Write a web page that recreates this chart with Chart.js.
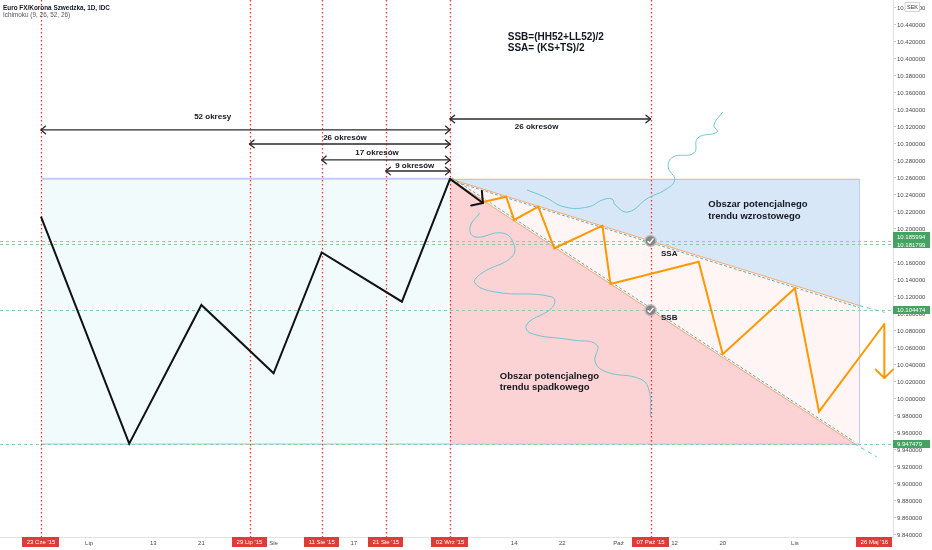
<!DOCTYPE html>
<html><head><meta charset="utf-8">
<script src="https://cdn.jsdelivr.net/npm/chart.js@4.4.0/dist/chart.umd.min.js"></script>
<style>html,body{margin:0;padding:0;background:#fff;overflow:hidden}canvas{display:block}</style>
</head><body>
<canvas id="c" width="932" height="550"></canvas>
<script>
// ---------- data (x = bar index from 23 Cze '15, y = EUR/SEK price) ----------
const priceIdx = [0, 11, 20, 29, 35, 45, 51];
const priceVal = [10.2145, 9.9475, 10.1106, 10.0302, 10.1725, 10.1145, 10.259];

const zigIdx = [55, 58, 59, 62, 64, 70, 71, 82, 85, 94, 97, 105.15];
const zigVal = [10.2314, 10.2380, 10.2106, 10.2262, 10.1773, 10.2039, 10.1353, 10.1615, 10.0526, 10.1302, 9.9851, 10.0882];
const zigArrowEnd = [105.15, 10.0247];
const blackArrow = [[51, 10.259], [55.1, 10.2306]];

const hiLo = [10.259, 9.9475];          // HH52, LL52
const rangeIdx = [0, 51];
const cloudIdx = [51, 102, 101.4];       // apex, upper end, lower end
const upperEndVal = 10.110;
const upperExt = [[102, 10.110], [105.2, 10.1018]];
const lowerExt = [[101.4, 9.9475], [104.2, 9.9318]];
const markerIdx = 76;
const markerVal = [10.185994, 10.104474];

const priceLines = [10.185994, 10.181799, 10.104474, 9.947479];

const vLineIdx = [0, 26, 35, 43, 51, 76];
const vLineLabels = ["23 Cze '15", "29 Lip '15", "11 Sie '15", "21 Sie '15", "02 Wrz '15", "07 Paź '15"];
const edgeLabelIdx = 103.9;
const edgeLabel = "26 Maj '16";

const xTickIdx = [6, 14, 20, 29, 39, 59, 65, 72, 79, 85, 94];
const xTickLabels = ['Lip', '13', '21', 'Sie', '17', '14', '22', 'Paź', '12', '20', 'Lis'];
const xMin = -5.11, xMax = 106.23;
const yMin = 9.8376, yMax = 10.4694;
const yTickFrom = 9.84, yTickTo = 10.46, yTickStep = 0.02;

const spanFrom = [0, 26, 35, 43, 51];
const spanTo = [51, 51, 51, 51, 76];
const spanVal = [10.3165, 10.300, 10.2812, 10.2682, 10.3294];
const spanText = ['52 okresy', '26 okresów', '17 okresów', '9 okresów', '26 okresów'];
const spanTextIdx = [21.4, 37.9, 41.9, 46.6, 61.8];
const spanTextVal = [10.332, 10.3071, 10.2894, 10.2741, 10.3200];

const noteText = ['SSB=(HH52+LL52)/2', 'SSA= (KS+TS)/2', 'Obszar potencjalnego', 'trendu wzrostowego',
                  'Obszar potencjalnego', 'trendu spadkowego', 'SSA', 'SSB'];
const noteIdx = [58.2, 58.2, 83.2, 83.2, 57.2, 57.2, 77.3, 77.3];
const noteVal = [10.4259, 10.413, 10.2294, 10.2153, 10.0271, 10.0141, 10.1706, 10.0953];
const noteKind = ['big', 'big', 'mid', 'mid', 'mid', 'mid', 'small', 'small'];

const tealUpper = [[85.0,10.3376],[83.9,10.3224],[84.3,10.3141],[81.9,10.3071],[81.4,10.2894],[78.8,10.2847],
  [78.2,10.2729],[79.0,10.2576],[77.8,10.2459],[75.7,10.2365],[73.2,10.2200],[71.6,10.2282],[71.2,10.2353],
  [70.0,10.2341],[68.2,10.2259],[65.3,10.2259],[62.8,10.2376],[60.6,10.2459]];
const tealLower = [[54.7,10.2188],[53.5,10.2024],[54.1,10.1906],[57.5,10.1953],[58.9,10.1835],[58.7,10.1671],
  [55.0,10.1482],[54.1,10.1365],[56.6,10.1259],[63.7,10.1200],[63.8,10.1082],[60.6,10.0882],[61.0,10.0776],
  [66.2,10.0694],[69.3,10.0635],[69.1,10.0435],[70.5,10.0318],[74.7,10.0235],[75.8,10.0106],[76.0,9.9788]];

const header1 = 'Euro FX/Korona Szwedzka, 1D, IDC';
const header2 = 'Ichimoku (9, 26, 52, 26)';

// ---------- styles ----------
const FF = "'Liberation Sans', Arial, sans-serif";
const noteFont = { big: 'bold 10px ' + FF, mid: 'bold 9.5px ' + FF, small: 'bold 8px ' + FF };

function arrowHead(ctx, fx, fy, tx, ty, len, ang) {
  const a = Math.atan2(ty - fy, tx - fx);
  ctx.beginPath();
  ctx.moveTo(tx - len * Math.cos(a - ang), ty - len * Math.sin(a - ang));
  ctx.lineTo(tx, ty);
  ctx.lineTo(tx - len * Math.cos(a + ang), ty - len * Math.sin(a + ang));
  ctx.stroke();
}
function line(ctx, x1, y1, x2, y2) { ctx.beginPath(); ctx.moveTo(x1, y1); ctx.lineTo(x2, y2); ctx.stroke(); }

const drawings = {
  id: 'drawings',
  beforeDatasetsDraw(chart) {
    const { ctx, chartArea: ca, scales: { x, y } } = chart;
    const px = v => x.getPixelForValue(v), py = v => y.getPixelForValue(v);
    const [HH, LL] = hiLo;
    ctx.save();
    ctx.beginPath(); ctx.rect(ca.left, ca.top, ca.width, ca.height); ctx.clip();
    ctx.fillStyle = '#f2fbfb';
    ctx.fillRect(px(rangeIdx[0]), py(HH), px(rangeIdx[1]) - px(rangeIdx[0]), py(LL) - py(HH));
    ctx.fillStyle = '#fff5f5';
    ctx.fillRect(px(cloudIdx[0]), py(HH), px(cloudIdx[1]) - px(cloudIdx[0]), py(LL) - py(HH));
    ctx.fillStyle = '#d8e7f7';
    ctx.beginPath(); ctx.moveTo(px(cloudIdx[0]), py(HH)); ctx.lineTo(px(cloudIdx[1]), py(HH));
    ctx.lineTo(px(cloudIdx[1]), py(upperEndVal)); ctx.closePath(); ctx.fill();
    ctx.fillStyle = '#fbd3d4';
    ctx.beginPath(); ctx.moveTo(px(cloudIdx[0]), py(HH)); ctx.lineTo(px(cloudIdx[2]), py(LL));
    ctx.lineTo(px(cloudIdx[0]), py(LL)); ctx.closePath(); ctx.fill();
    ctx.strokeStyle = '#c4caf4'; ctx.lineWidth = 2;
    line(ctx, px(rangeIdx[0]), py(HH), px(rangeIdx[1]), py(HH));
    ctx.lineWidth = 1; ctx.strokeStyle = '#aab3ec';
    line(ctx, px(rangeIdx[0]), py(LL) + 0.5, px(cloudIdx[1]), py(LL) + 0.5);
    ctx.strokeStyle = '#c5c6f0';
    line(ctx, px(cloudIdx[1]) + 0.5, py(HH), px(cloudIdx[1]) + 0.5, py(LL));
    ctx.strokeStyle = '#f6b183';
    line(ctx, px(cloudIdx[0]), py(HH) + 0.5, px(cloudIdx[1]), py(HH) + 0.5);
    ctx.setLineDash([3, 3]); ctx.strokeStyle = '#86d0a4'; ctx.lineWidth = 1;
    priceLines.forEach(v => line(ctx, ca.left, Math.round(py(v)) + 0.5, ca.right, Math.round(py(v)) + 0.5));
    ctx.setLineDash([]); ctx.strokeStyle = '#f7aa72'; ctx.lineWidth = 1;
    line(ctx, px(cloudIdx[0]), py(HH), px(cloudIdx[1]), py(upperEndVal));
    line(ctx, px(cloudIdx[0]), py(HH), px(cloudIdx[2]), py(LL));
    ctx.setLineDash([3, 2]); ctx.strokeStyle = '#6aa9ad';
    line(ctx, px(cloudIdx[0]) + 2, py(HH) + 2, px(cloudIdx[1]), py(upperEndVal) + 2);
    line(ctx, px(cloudIdx[0]) + 2, py(HH) - 1, px(cloudIdx[2]), py(LL) - 2);
    ctx.setLineDash([4, 4]); ctx.strokeStyle = '#66c3cc';
    line(ctx, px(upperExt[0][0]), py(upperExt[0][1]), px(upperExt[1][0]), py(upperExt[1][1]));
    line(ctx, px(lowerExt[0][0]), py(lowerExt[0][1]), px(lowerExt[1][0]), py(lowerExt[1][1]));
    ctx.restore();
    ctx.save();
    ctx.setLineDash([1.6, 2.4]); ctx.strokeStyle = '#e53935'; ctx.lineWidth = 1.3;
    vLineIdx.forEach(i => { const xx = Math.round(px(i)) + 0.5; line(ctx, xx, ca.top, xx, ca.bottom); });
    ctx.restore();
  },
  afterDatasetsDraw(chart) {
    const { ctx, chartArea: ca, scales: { x, y } } = chart;
    const px = v => x.getPixelForValue(v), py = v => y.getPixelForValue(v);
    ctx.save();
    ctx.strokeStyle = '#111'; ctx.lineWidth = 2; ctx.lineCap = 'round'; ctx.lineJoin = 'round';
    const bx1 = px(blackArrow[0][0]), by1 = py(blackArrow[0][1]), bx2 = px(blackArrow[1][0]), by2 = py(blackArrow[1][1]);
    line(ctx, bx1, by1, bx2, by2);
    arrowHead(ctx, bx1, by1, bx2, by2, 12, 0.85);
    ctx.strokeStyle = '#ff9800';
    const ox1 = px(zigIdx[zigIdx.length - 1]), oy1 = py(zigVal[zigVal.length - 1]);
    const ox2 = px(zigArrowEnd[0]), oy2 = py(zigArrowEnd[1]);
    line(ctx, ox1, oy1, ox2, oy2);
    arrowHead(ctx, ox1, oy1, ox2, oy2, 12, 0.8);
    ctx.strokeStyle = '#2a2a2a'; ctx.lineWidth = 1.3;
    ctx.fillStyle = '#131722'; ctx.font = 'bold 8px ' + FF; ctx.textAlign = 'center'; ctx.textBaseline = 'middle';
    spanFrom.forEach((f, i) => {
      const x1 = px(f), x2 = px(spanTo[i]), yy = py(spanVal[i]);
      line(ctx, x1, yy, x2, yy);
      arrowHead(ctx, x2, yy, x1, yy, 6, 0.7);
      arrowHead(ctx, x1, yy, x2, yy, 6, 0.7);
      ctx.fillText(spanText[i], px(spanTextIdx[i]), py(spanTextVal[i]));
    });
    ctx.textAlign = 'left';
    noteText.forEach((t, i) => {
      ctx.font = noteFont[noteKind[i]];
      ctx.fillText(t, px(noteIdx[i]), py(noteVal[i]));
    });
    markerVal.forEach(v => {
      const cx = px(markerIdx), cy = py(v);
      ctx.beginPath(); ctx.arc(cx, cy, 5.5, 0, Math.PI * 2);
      ctx.fillStyle = 'rgba(125,125,125,0.9)'; ctx.fill();
      ctx.strokeStyle = 'rgba(190,190,190,0.9)'; ctx.lineWidth = 1.5; ctx.stroke();
      ctx.strokeStyle = '#fff'; ctx.lineWidth = 1.4;
      ctx.beginPath(); ctx.moveTo(cx - 2.5, cy + 0.5); ctx.lineTo(cx - 0.8, cy + 2.2); ctx.lineTo(cx + 2.6, cy - 2); ctx.stroke();
    });
    ctx.textAlign = 'left'; ctx.textBaseline = 'middle';
    ctx.fillStyle = '#131722'; ctx.font = 'bold 6.4px ' + FF;
    ctx.fillText(header1, 3, 8);
    ctx.fillStyle = '#555'; ctx.font = '6.4px ' + FF;
    ctx.fillText(header2, 3, 15.5);
    ctx.font = '6px ' + FF; ctx.textAlign = 'center';
    const dateBox = (cx, t) => {
      const w = ctx.measureText(t).width + 9;
      ctx.fillStyle = '#de3b3b'; ctx.fillRect(Math.round(cx - w / 2), ca.bottom, Math.round(w), 10);
      ctx.fillStyle = '#fff'; ctx.fillText(t, cx, ca.bottom + 5.5);
    };
    vLineIdx.forEach((i, k) => dateBox(px(i), vLineLabels[k]));
    dateBox(px(edgeLabelIdx), edgeLabel);
    const ys = priceLines.map(v => py(v));
    for (let i = ys.length - 2; i >= 0; i--) if (ys[i] > ys[i + 1] - 8) ys[i] = ys[i + 1] - 8;
    ctx.textAlign = 'left';
    priceLines.forEach((v, i) => {
      ctx.fillStyle = '#45a362'; ctx.fillRect(ca.right, Math.round(ys[i] - 4), 37, 8);
      ctx.fillStyle = '#fff'; ctx.fillText(v.toFixed(6), ca.right + 4, ys[i] + 0.5);
    });
    ctx.fillStyle = '#fff'; ctx.strokeStyle = '#cfd2d8'; ctx.lineWidth = 1;
    ctx.fillRect(905.5, 2.5, 14, 9); ctx.strokeRect(905.5, 2.5, 14, 9);
    ctx.fillStyle = '#333'; ctx.font = '5.5px ' + FF; ctx.textAlign = 'center';
    ctx.fillText('SEK', 912.5, 7.3);
    ctx.restore();
  }
};

const pts = (xs, ys) => xs.map((v, i) => ({ x: v, y: ys[i] }));
const pairs = arr => arr.map(([a, b]) => ({ x: a, y: b }));

new Chart(document.getElementById('c'), {
  type: 'scatter',
  data: {
    datasets: [
      { data: pts(priceIdx, priceVal), showLine: true, borderColor: '#111', borderWidth: 2, pointRadius: 0, borderJoinStyle: 'miter' },
      { data: pts(zigIdx, zigVal), showLine: true, borderColor: '#ff9800', borderWidth: 2, pointRadius: 0 },
      { data: pairs(tealUpper), showLine: true, borderColor: '#6cc7d3', borderWidth: 1, pointRadius: 0, tension: 0.45 },
      { data: pairs(tealLower), showLine: true, borderColor: '#6cc7d3', borderWidth: 1, pointRadius: 0, tension: 0.45 }
    ]
  },
  options: {
    responsive: false, animation: false, events: [],
    layout: { padding: 0 },
    plugins: { legend: { display: false }, tooltip: { enabled: false } },
    scales: {
      x: {
        type: 'linear', position: 'bottom', min: xMin, max: xMax,
        grid: { display: false, drawTicks: false, tickLength: 0 }, border: { display: true, color: '#dfe2ea' },
        ticks: { autoSkip: false, maxRotation: 0, padding: 3, color: '#4a4a4a', font: { family: FF, size: 6 },
          callback: v => { const k = xTickIdx.indexOf(v); return k >= 0 ? xTickLabels[k] : ''; } },
        afterBuildTicks: s => { s.ticks = xTickIdx.map(v => ({ value: v })); },
        afterFit: s => { s.height = 13; s.paddingLeft = 0; s.paddingRight = 0; }
      },
      y: {
        type: 'linear', position: 'right', min: yMin, max: yMax,
        grid: { display: true, drawOnChartArea: false, tickLength: 3, color: '#c8cbd2' },
        border: { display: true, color: '#dfe2ea' },
        ticks: { padding: 1, color: '#4a4a4a', font: { family: FF, size: 6 }, callback: v => Number(v).toFixed(6) },
        afterBuildTicks: s => {
          const t = [];
          for (let k = 0; yTickFrom + k * yTickStep <= yTickTo + 1e-9; k++) t.push({ value: Math.round((yTickFrom + k * yTickStep) * 100) / 100 });
          s.ticks = t;
        },
        afterFit: s => { s.width = 39; s.paddingTop = 0; s.paddingBottom = 0; }
      }
    }
  },
  plugins: [drawings]
});
</script>
</body></html>
